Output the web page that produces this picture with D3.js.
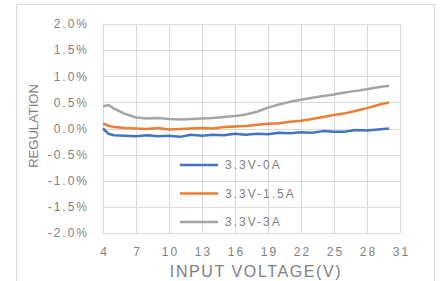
<!DOCTYPE html>
<html>
<head>
<meta charset="utf-8">
<script src="https://cdn.jsdelivr.net/npm/d3@7"></script>
<style>
  body { margin: 0; background: #fff; }
  svg { display: block; font-family: "Liberation Sans", Arial, sans-serif; }
</style>
</head>
<body>
<div class="chart"></div>
<script>
// DATA ------------------------------
let volts = [4, 4.5, 5, 6, 7, 8, 9, 10, 11, 12, 13, 14, 15, 16, 17, 18, 19, 20, 21, 22, 23, 24, 25, 26, 27, 28, 29, 30];
let reg0A = [0.00, -0.10, -0.13, -0.14, -0.15, -0.13, -0.15, -0.14, -0.16, -0.12, -0.14, -0.12, -0.13, -0.10, -0.12, -0.10, -0.11, -0.08, -0.09, -0.07, -0.08, -0.05, -0.06, -0.06, -0.03, -0.04, -0.02, 0.00];
let reg15A = [0.10, 0.05, 0.03, 0.01, 0.00, -0.01, 0.01, -0.02, -0.01, 0.00, 0.01, 0.00, 0.03, 0.04, 0.05, 0.07, 0.09, 0.10, 0.13, 0.15, 0.18, 0.22, 0.26, 0.29, 0.34, 0.39, 0.45, 0.50];
let reg3A = [0.42, 0.45, 0.38, 0.28, 0.21, 0.19, 0.20, 0.18, 0.17, 0.18, 0.19, 0.20, 0.22, 0.24, 0.27, 0.32, 0.40, 0.46, 0.51, 0.55, 0.59, 0.62, 0.65, 0.69, 0.72, 0.75, 0.79, 0.82];
let seriesNames = ["3.3V-0A", "3.3V-1.5A", "3.3V-3A"];
let xTicks = [4, 7, 10, 13, 16, 19, 22, 25, 28, 31];
let yTicks = [2.0, 1.5, 1.0, 0.5, 0.0, -0.5, -1.0, -1.5, -2.0];

let colors = ["#4472c4", "#ed7d31", "#a5a5a5"];
let series = [reg0A, reg15A, reg3A];

// CHART INIT ------------------------------
let margin = { top: 24, right: 40, bottom: 48, left: 103 },
  width = 440 - margin.left - margin.right,
  height = 281 - margin.top - margin.bottom;

let root = d3.select(".chart").append("svg")
  .attr("width", 440)
  .attr("height", 281);

// outer chart frame
root.append("rect")
  .attr("x", 16.5).attr("y", 4.5)
  .attr("width", 418).attr("height", 300)
  .attr("fill", "none").attr("stroke", "#d9d9d9");

let svg = root.append("g")
  .attr("transform", "translate(" + margin.left + "," + margin.top + ")");

let x = d3.scaleLinear().domain([4, 31]).range([0, width]);
let y = d3.scaleLinear().domain([-2, 2]).range([height, 0]);

// gridlines
svg.selectAll(".hgrid").data(yTicks).enter().append("line")
  .attr("class", "hgrid")
  .attr("x1", 0).attr("x2", width)
  .attr("y1", d => Math.round(y(d)) + 0.5).attr("y2", d => Math.round(y(d)) + 0.5)
  .attr("stroke", "#d9d9d9");

svg.selectAll(".vgrid").data(xTicks).enter().append("line")
  .attr("class", "vgrid")
  .attr("y1", 0).attr("y2", height)
  .attr("x1", d => Math.round(x(d)) + 0.5).attr("x2", d => Math.round(x(d)) + 0.5)
  .attr("stroke", "#d9d9d9");

// axes (labels only)
let xAxis = d3.axisBottom(x).tickValues(xTicks).tickSize(0).tickPadding(14);
let yAxis = d3.axisLeft(y).tickValues(yTicks).tickSize(0).tickPadding(14)
  .tickFormat(d => d.toFixed(1) + "%");

let xAxisGroup = svg.append("g").attr("transform", "translate(0," + height + ")").call(xAxis);
let yAxisGroup = svg.append("g").call(yAxis);
[xAxisGroup, yAxisGroup].forEach(g => {
  g.select(".domain").remove();
  g.selectAll("text")
    .attr("fill", "#7f7f7f")
    .style("font-size", "12px")
    .style("letter-spacing", "2px")
    .style("font-family", "'Liberation Sans', Arial, sans-serif");
});
xAxisGroup.selectAll("text").attr("dx", "1px");

// lines
let line = d3.line()
  .x((d, i) => x(volts[i]))
  .y(d => y(d));

svg.selectAll(".series").data(series).enter().append("path")
  .attr("class", "series")
  .attr("d", d => line(d))
  .attr("fill", "none")
  .attr("stroke", (d, i) => colors[i])
  .attr("stroke-width", 2.5)
  .attr("stroke-linejoin", "round");

// legend
let legend = svg.selectAll(".legend").data(seriesNames).enter().append("g")
  .attr("class", "legend")
  .attr("transform", (d, i) => "translate(" + (180 - margin.left) + "," + (165 + i * 28.5 - margin.top) + ")");

legend.append("line")
  .attr("x1", 0).attr("x2", 38)
  .attr("stroke", (d, i) => colors[i])
  .attr("stroke-width", 2.5);

legend.append("text")
  .attr("x", 45).attr("dy", "0.35em")
  .attr("fill", "#7f7f7f")
  .style("font-size", "12px")
  .style("letter-spacing", "2px")
  .text(d => d);

// axis titles
root.append("text")
  .attr("x", 256).attr("y", 277)
  .attr("text-anchor", "middle")
  .attr("fill", "#7f7f7f")
  .style("font-size", "16px")
  .style("letter-spacing", "1.6px")
  .text("INPUT VOLTAGE(V)");

root.append("text")
  .attr("transform", "translate(38,126) rotate(-90)")
  .attr("text-anchor", "middle")
  .attr("fill", "#7f7f7f")
  .style("font-size", "13px")
  .text("REGULATION");
</script>
</body>
</html>
